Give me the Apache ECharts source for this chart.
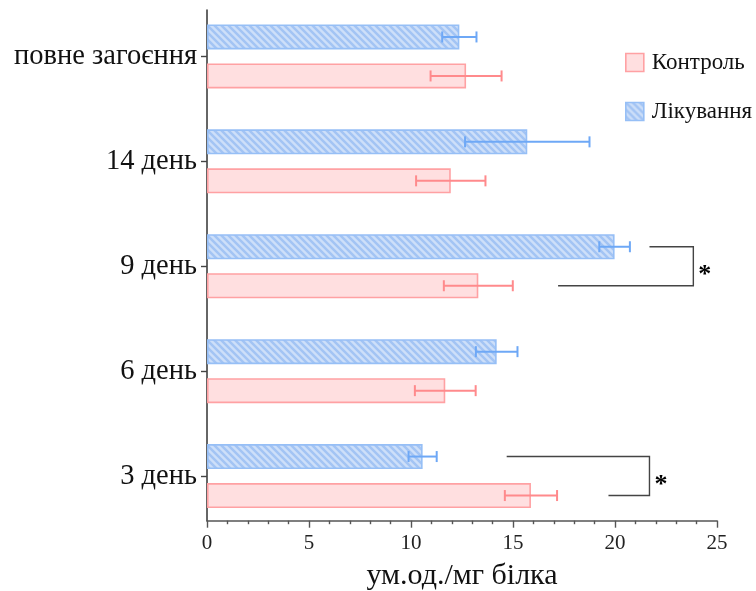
<!DOCTYPE html>
<html>
<head>
<meta charset="utf-8">
<script src="https://cdn.jsdelivr.net/npm/echarts@6/dist/echarts.min.js"></script>
<style>
html,body{margin:0;padding:0;background:#fff;}
#chart{width:756px;height:591px;}
</style>
</head>
<body>
<div id="chart"></div>
<script>
// ---- data ----
const categories = ['3 день', '6 день', '9 день', '14 день', 'повне загоєння'];
const seriesNames = ['Контроль', 'Лікування'];
const controlMean = [15.88, 11.68, 13.30, 11.95, 12.70];
const controlSD   = [1.28, 1.49, 1.69, 1.70, 1.74];
const treatMean   = [10.57, 14.20, 19.98, 15.70, 12.37];
const treatSD     = [0.69, 1.02, 0.75, 3.05, 0.84];
const xTicks = [0, 5, 10, 15, 20, 25];
const xAxisTitle = 'ум.од./мг білка';
// significance brackets: category index, top-line start, bottom-line start, end, label
const bracketCat = [0, 2];
const bracketTopStart = [14.69, 21.69];
const bracketBottomStart = [19.68, 17.21];
const bracketEnd = [21.69, 23.84];
const bracketLabel = ['*', '*'];

// ---- styling helpers ----
const FONT = 'Liberation Serif, Times New Roman, serif';
const BAR_W = 25;
const HALF_OFF = 19.5; // pixel distance from category centre to each bar centre

function makeHatch() {
  const s = 7;
  const c = document.createElement('canvas');
  c.width = s; c.height = s;
  const g = c.getContext('2d');
  g.fillStyle = '#cddff9';
  g.fillRect(0, 0, s, s);
  g.strokeStyle = '#a3c4f4';
  g.lineWidth = 2.5;
  g.beginPath();
  g.moveTo(-2, -2); g.lineTo(s + 2, s + 2);
  g.moveTo(-2, s - 2); g.lineTo(2, s + 2);
  g.moveTo(s - 2, -2); g.lineTo(s + 2, 2);
  g.stroke();
  return c;
}
const hatch = { image: makeHatch(), repeat: 'repeat' };

function errorSeries(name, means, sds, color, dir) {
  return {
    type: 'custom',
    name: name + '_err',
    xAxisIndex: 0, yAxisIndex: 0,
    silent: true,
    z: 5,
    encode: { x: 0, y: 1 },
    data: means.map((m, i) => [m, i, sds[i]]),
    renderItem: function (params, api) {
      const m = api.value(0), cat = api.value(1), sd = api.value(2);
      const lo = api.coord([m - sd, cat]);
      const hi = api.coord([m + sd, cat]);
      const y = lo[1] + dir * HALF_OFF;
      const cap = 5.5;
      const st = { stroke: color, lineWidth: 2 };
      return {
        type: 'group',
        children: [
          { type: 'line', shape: { x1: lo[0], y1: y, x2: hi[0], y2: y }, style: st },
          { type: 'line', shape: { x1: lo[0], y1: y - cap, x2: lo[0], y2: y + cap }, style: st },
          { type: 'line', shape: { x1: hi[0], y1: y - cap, x2: hi[0], y2: y + cap }, style: st }
        ]
      };
    }
  };
}

const chart = echarts.init(document.getElementById('chart'), null, { renderer: 'canvas' });

const option = {
  backgroundColor: '#fff',
  animation: false,
  legend: {
    orient: 'vertical',
    left: 625, top: 51,
    padding: 0,
    icon: 'rect',
    itemWidth: 18, itemHeight: 18, itemGap: 26,
    data: seriesNames,
    itemStyle: { borderWidth: 1.6 },
    textStyle: { fontFamily: FONT, fontSize: 23, color: '#111', padding: [0, 0, 0, 3] }
  },
  grid: [
    { left: 207, width: 510, top: 4, height: 524.5, outerBoundsMode: 'none', containLabel: false },
    { left: 207, width: 510, top: 10, height: 510.7, outerBoundsMode: 'none', containLabel: false }
  ],
  xAxis: [
    { gridIndex: 0, type: 'value', min: 0, max: 25, show: false },
    {
      gridIndex: 1, type: 'value', min: 0, max: 25, interval: 5,
      name: xAxisTitle, nameLocation: 'middle', nameGap: 40,
      nameTextStyle: { fontFamily: FONT, fontSize: 30, color: '#111' },
      axisLine: { show: true, lineStyle: { color: '#555', width: 1.6 } },
      axisTick: { show: true, length: 7, lineStyle: { color: '#555', width: 1.4 } },
      minorTick: { show: true, splitNumber: 5, length: 3.5, lineStyle: { color: '#555', width: 1.4 } },
      splitLine: { show: false },
      axisLabel: {
        fontFamily: FONT, fontSize: 21, color: '#222', margin: 12,
        customValues: xTicks
      }
    }
  ],
  yAxis: [
    {
      gridIndex: 0, type: 'category', data: categories,
      axisLine: { show: false },
      axisTick: { show: true, alignWithLabel: true, length: 6, lineStyle: { color: '#444', width: 1.4 } },
      axisLabel: { fontFamily: FONT, fontSize: 28.5, color: '#111', margin: 10 }
    },
    {
      gridIndex: 1, type: 'value', min: 0, max: 1,
      axisLine: { show: true, lineStyle: { color: '#333', width: 1.5 } },
      axisTick: { show: false }, axisLabel: { show: false }, splitLine: { show: false }
    }
  ],
  series: [
    {
      name: seriesNames[1], type: 'bar', xAxisIndex: 0, yAxisIndex: 0,
      data: treatMean, barWidth: BAR_W, barGap: '56%',
      itemStyle: { color: hatch, borderColor: '#96bff6', borderWidth: 1.6 }
    },
    {
      name: seriesNames[0], type: 'bar', xAxisIndex: 0, yAxisIndex: 0,
      data: controlMean, barWidth: BAR_W, barGap: '56%',
      itemStyle: { color: '#ffdfe0', borderColor: '#ffa1a3', borderWidth: 1.6 }
    },
    errorSeries('t', treatMean, treatSD, '#6ea8f6', -1),
    errorSeries('c', controlMean, controlSD, '#ff8a8c', 1),
    {
      type: 'custom', name: 'brackets', xAxisIndex: 0, yAxisIndex: 0, silent: true, z: 6,
      encode: { x: 1, y: 0 },
      data: bracketCat.map((c, i) => [c, bracketTopStart[i], bracketBottomStart[i], bracketEnd[i]]),
      renderItem: function (params, api) {
        const cat = api.value(0);
        const i = params.dataIndex;
        const ts = api.coord([api.value(1), cat]);
        const bs = api.coord([api.value(2), cat]);
        const en = api.coord([api.value(3), cat]);
        const yT = en[1] - HALF_OFF, yB = en[1] + HALF_OFF;
        return {
          type: 'group',
          children: [
            { type: 'polyline',
              shape: { points: [[ts[0], yT], [en[0], yT], [en[0], yB], [bs[0], yB]] },
              style: { stroke: '#444', lineWidth: 1.4, fill: null } },
            { type: 'text',
              style: { text: bracketLabel[i], x: en[0] + 5, y: en[1] + 9,
                       font: 'bold 26px ' + FONT, fill: '#000', align: 'left', verticalAlign: 'middle' } }
          ]
        };
      }
    }
  ]
};
chart.setOption(option);
</script>
</body>
</html>
